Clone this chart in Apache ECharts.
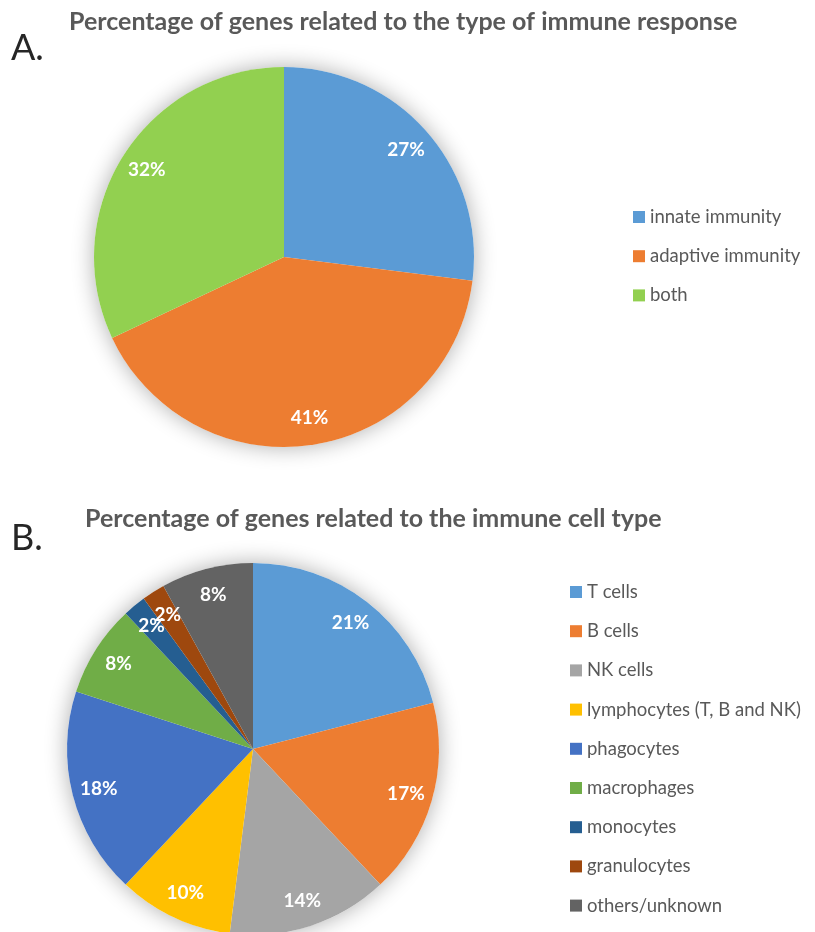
<!DOCTYPE html>
<html>
<head>
<meta charset="utf-8">
<script src="https://cdn.jsdelivr.net/npm/echarts@6/dist/echarts.min.js"></script>
<style>
  html, body { margin: 0; padding: 0; background: #fff; }
  #chart { width: 815px; height: 932px; }
</style>
</head>
<body>
<div id="chart"></div>
<script>
// Panel A: genes by type of immune response
const responseTypes = ['innate immunity', 'adaptive immunity', 'both'];
const responseValues = [27, 41, 32];
const responseColors = ['#5B9BD5', '#ED7D31', '#92D050'];

// Panel B: genes by immune cell type
const cellTypes = ['T cells', 'B cells', 'NK cells', 'lymphocytes (T, B and NK)', 'phagocytes',
  'macrophages', 'monocytes', 'granulocytes', 'others/unknown'];
const cellValues = [21, 17, 14, 10, 18, 8, 2, 2, 8];
const cellColors = ['#5B9BD5', '#ED7D31', '#A5A5A5', '#FFC000', '#4472C4',
  '#70AD47', '#255E91', '#9E480E', '#636363'];

const FONT = 'Lato, "Open Sans", sans-serif';
const TEXT_GREY = '#595959';

const chart = echarts.init(document.getElementById('chart'), null, { renderer: 'canvas' });

function toData(names, values, colors) {
  return names.map((n, i) => ({ name: n, value: values[i], itemStyle: { color: colors[i] } }));
}

// one panel = soft shadow disc + coloured pie + a transparent ring that carries the labels
function panel(names, values, colors, center, radius) {
  return [
    {
      type: 'pie', silent: true, z: 1, center, radius,
      label: { show: false }, labelLine: { show: false },
      itemStyle: { color: '#fff', shadowBlur: 22, shadowColor: 'rgba(0,0,0,0.32)' },
      data: [{ name: '', value: 1 }]
    },
    {
      type: 'pie', z: 2, center, radius, startAngle: 90, clockwise: true,
      label: { show: false }, labelLine: { show: false },
      emphasis: { disabled: true },
      itemStyle: { borderWidth: 0 },
      data: toData(names, values, colors)
    },
    {
      type: 'pie', z: 3, silent: true, center, radius: [radius * 0.68, radius],
      startAngle: 90, clockwise: true, avoidLabelOverlap: false,
      itemStyle: { color: 'transparent' },
      labelLine: { show: false },
      labelLayout: { hideOverlap: false },
      label: {
        show: true, position: 'inside', formatter: '{c}%',
        color: '#fff', fontFamily: FONT, fontWeight: 'bold', fontSize: 19
      },
      data: names.map((n, i) => ({ name: n, value: values[i] }))
    }
  ];
}

const legendText = { color: TEXT_GREY, fontFamily: FONT, fontSize: 18.5, lineHeight: 20 };

chart.setOption({
  animation: false,
  backgroundColor: '#fff',
  title: [
    {
      text: 'Percentage of genes related to the type of immune response',
      left: 64, top: 4,
      textStyle: { color: TEXT_GREY, fontFamily: FONT, fontWeight: 'bold', fontSize: 25 }
    },
    {
      text: 'A.', left: 6, top: 25,
      textStyle: { color: '#262626', fontFamily: FONT, fontWeight: 'normal', fontSize: 36 }
    },
    {
      text: 'Percentage of genes related to the immune cell type',
      left: 80, top: 501,
      textStyle: { color: TEXT_GREY, fontFamily: FONT, fontWeight: 'bold', fontSize: 25 }
    },
    {
      text: 'B.', left: 6, top: 515,
      textStyle: { color: '#262626', fontFamily: FONT, fontWeight: 'normal', fontSize: 36 }
    }
  ],
  legend: [
    {
      data: responseTypes, orient: 'vertical', left: 633, top: 207, padding: 0,
      icon: 'rect', itemWidth: 12, itemHeight: 12, itemGap: 19.2,
      selectedMode: false, textStyle: legendText
    },
    {
      data: cellTypes, orient: 'vertical', left: 570, top: 582, padding: 0,
      icon: 'rect', itemWidth: 12, itemHeight: 12, itemGap: 19.2,
      selectedMode: false, textStyle: legendText
    }
  ],
  series: [
    ...panel(responseTypes, responseValues, responseColors, [284, 257], 190),
    ...panel(cellTypes, cellValues, cellColors, [253, 749], 186)
  ]
});
</script>
</body>
</html>
